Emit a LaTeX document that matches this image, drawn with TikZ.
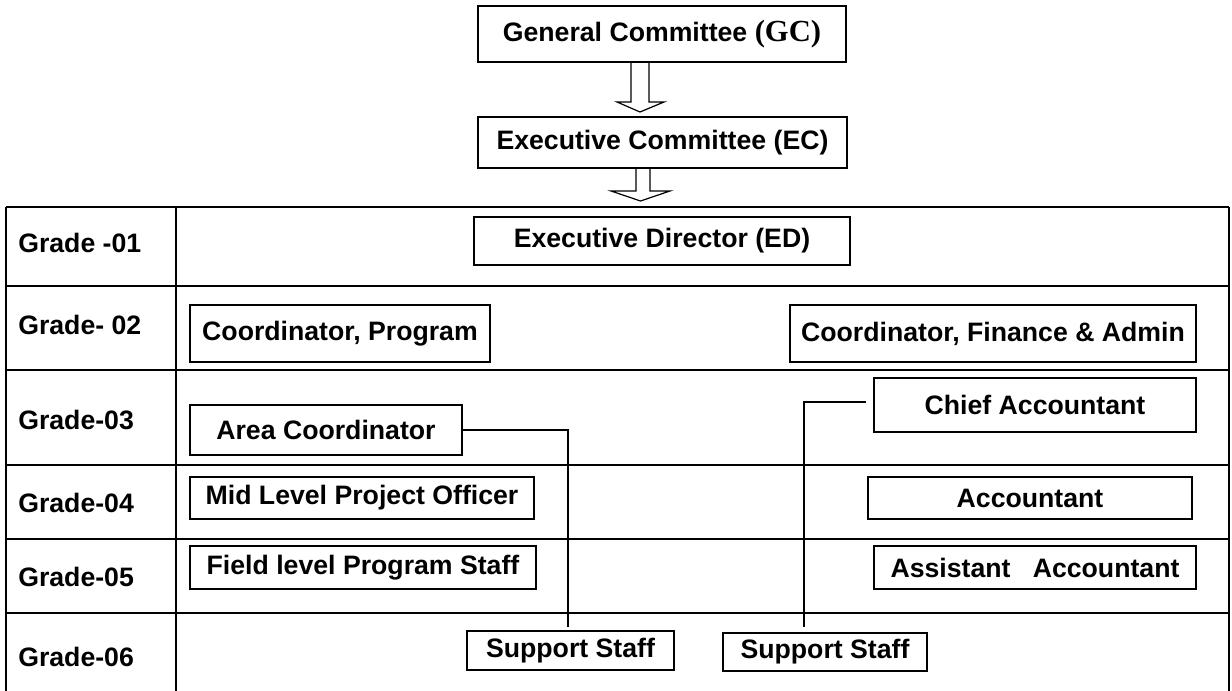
\documentclass[tikz,border=0pt]{standalone}
\usepackage{fontspec}
\setmainfont{Liberation Sans}
\newfontfamily\serifbold{Liberation Serif}
\usetikzlibrary{calc}
\begin{document}
\begin{tikzpicture}[x=0.75pt,y=-0.75pt,
  txt/.style={font=\fontsize{20}{24}\selectfont\bfseries},
  box/.style={draw, line width=1.5pt, inner sep=0pt, txt},
  grade/.style={anchor=west, inner sep=0pt, txt},
  rule/.style={line width=1.5pt},
  conn/.style={line width=0.9pt},
  blockarrow/.style={line width=0.9pt, line join=miter}]
\useasboundingbox[fill=white] (0,0) rectangle (1232,691);

% table grid
\foreach \yy in {207,286,370,465,539,613}
  \draw[rule] (6,\yy) -- (1229,\yy);
\foreach \xx in {6,176,1229}
  \draw[rule] (\xx,207) -- (\xx,691);

% grade labels
\node[grade] (g1) at (18,243) {Grade -01};
\node[grade] (g2) at (18,325) {Grade- 02};
\node[grade] (g3) at (18,420) {Grade-03};
\node[grade] (g4) at (18,503) {Grade-04};
\node[grade] (g5) at (18,577) {Grade-05};
\node[grade] (g6) at (18,657) {Grade-06};

% boxes
\node[box, minimum width=276pt, minimum height=42pt] (GC) at (662,34)
  {General Committee {\serifbold\fontsize{23}{27}\selectfont\bfseries(GC)}};
\node[box, minimum width=276.75pt, minimum height=38.25pt] (EC) at (662.5,142.5) {Executive Committee (EC)};
\node[box, minimum width=282pt, minimum height=36pt] (ED) at (662,241) {Executive Director (ED)};
\node[box, minimum width=225pt, minimum height=42.75pt] (CP) at (340,333.5) {Coordinator, Program};
\node[box, minimum width=304.5pt, minimum height=42.75pt] (CFA) at (993,333.5) {Coordinator, Finance \& Admin};
\node[box, minimum width=204pt, minimum height=37.5pt] (AC) at (326,430) {Area Coordinator};
\node[box, minimum width=241.5pt, minimum height=40.5pt] (CA) at (1035,405) {Chief Accountant};
\node[box, minimum width=258pt, minimum height=31.5pt] (MLPO) at (362,498) {Mid Level Project Officer};
\node[box, minimum width=243pt, minimum height=31.5pt] (ACC) at (1030,498) {Accountant};
\node[box, minimum width=259.5pt, minimum height=32.25pt] (FLPS) at (363,567.5) {Field level Program Staff};
\node[box, minimum width=241.5pt, minimum height=32.25pt] (AA) at (1035,567.5) {Assistant\ \ \ Accountant};
\node[box, minimum width=155.25pt, minimum height=29.25pt] (SS1) at (570.5,650.5) {Support Staff};
\node[box, minimum width=153pt, minimum height=28.5pt] (SS2) at (825,652) {Support Staff};

% hollow block arrows
\draw[blockarrow] (631,62) -- (631,102) -- (617,102) -- (640,112) -- (664,102) -- (649,102) -- (649,62);
\draw[blockarrow] (636,168) -- (636,191) -- (611,191) -- (640.5,201) -- (670,191) -- (650,191) -- (650,168);

% connectors
\coordinate (c1) at (568,627);
\coordinate (c2) at (804,627);
\draw[conn] (AC.east) -| (c1);
\draw[conn] ($(CA.west)+(-7,-3)$) -| (c2);
\end{tikzpicture}
\end{document}
